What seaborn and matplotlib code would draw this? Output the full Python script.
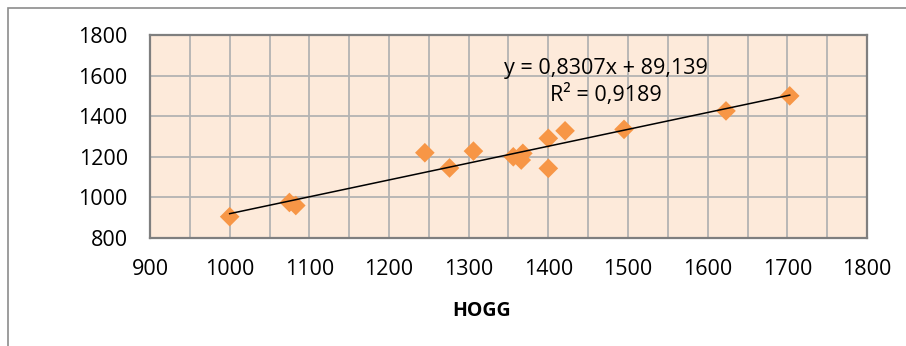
import matplotlib
matplotlib.use("Agg")
import matplotlib.pyplot as plt
import seaborn as sns
import pandas as pd
import numpy as np
from matplotlib.patches import Rectangle

# Data
hogg_x = [1000, 1075, 1083, 1245, 1276, 1306, 1356, 1368, 1366, 1400, 1421, 1400, 1495, 1623, 1703]
other_y = [905, 975, 960, 1220, 1145, 1228, 1200, 1217, 1184, 1291, 1328, 1143, 1335, 1426, 1500]
slope = 0.8307
intercept = 89.139
eq_text = "y = 0,8307x + 89,139"
r2_text = "R² = 0,9189"
x_ticks = [900, 1000, 1100, 1200, 1300, 1400, 1500, 1600, 1700, 1800]
y_ticks = [800, 1000, 1200, 1400, 1600, 1800]
x_label = "HOGG"

df = pd.DataFrame({"HOGG": hogg_x, "Y": other_y})

FONT = ["Open Sans", "DejaVu Sans"]
plt.rcParams["font.family"] = FONT
FS = 15.5

fig = plt.figure(figsize=(9.06, 3.46), dpi=100)
ax = fig.add_axes([150/906, 1-238/346, (867-150)/906, (238-35)/346])
ax.set_facecolor("#FDEADA")

# figure border (chart area, cropped at right/bottom)
fig.patches.append(Rectangle((8/906, -0.1), 1.2, 1 - 8/346 + 0.1, transform=fig.transFigure,
                             fill=False, edgecolor="#8c8c8c", linewidth=1.2))

# grid
ax.set_xlim(900, 1800)
ax.set_ylim(800, 1800)
ax.set_xticks(x_ticks)
ax.set_xticks(np.arange(950, 1800, 100), minor=True)
ax.set_yticks(y_ticks)
ax.grid(True, which="both", axis="x", color="#b3b3b3", linewidth=1.3)
ax.grid(True, which="major", axis="y", color="#b3b3b3", linewidth=1.3)
ax.set_axisbelow(True)
ax.tick_params(which="both", length=0)
ax.tick_params(axis="y", pad=16, labelsize=FS)
ax.tick_params(axis="x", pad=15, labelsize=FS)
for s in ax.spines.values():
    s.set_color("#7f7f7f")
    s.set_linewidth(1.6)

sns.scatterplot(data=df, x="HOGG", y="Y", marker="D", s=100, color="#F79646",
                edgecolor="none", ax=ax, zorder=3)

xs = np.array([min(hogg_x), max(hogg_x)])
ax.plot(xs, slope * xs + intercept, color="black", linewidth=1.1, zorder=4)

ax.text(1472, 1635, eq_text, ha="center", va="center", fontsize=FS, zorder=5)
ax.text(1472, 1504, r2_text, ha="center", va="center", fontsize=FS, zorder=5)

ax.set_ylabel("")
ax.set_xlabel(x_label, fontsize=14, fontweight="bold")
ax.xaxis.set_label_coords(0.462, -0.31)

fig.savefig("out.png", dpi=100)
